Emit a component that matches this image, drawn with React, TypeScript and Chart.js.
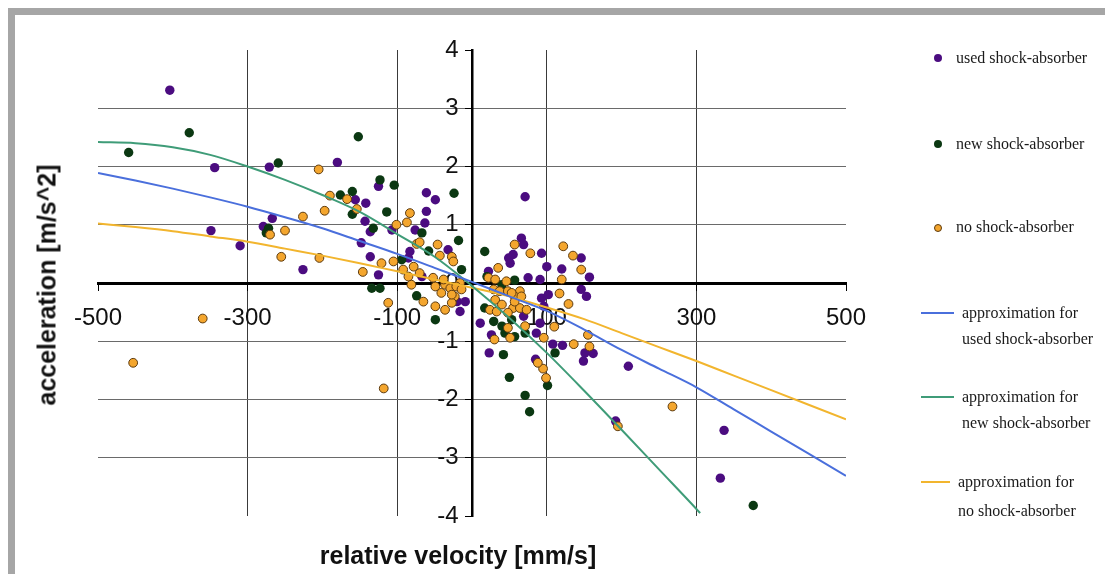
import { useEffect, useRef } from "react";
import { Chart, registerables } from "chart.js";

Chart.register(...registerables);

// ---------- data ----------
const xTickValues = [-500, -300, -100, 100, 300, 500];
const yTickValues = [-4, -3, -2, -1, 0, 1, 2, 3, 4];

const usedPoints: [number, number][] = [
  [-404, 3.31], [-344, 1.98], [-349, 0.9], [-310, 0.64], [-271, 1.99], [-267, 1.11], [-279, 0.97], [-226, 0.23], [-180, 2.07],
  [-156, 1.43], [-142, 1.37], [-143, 1.06], [-136, 0.88], [-148, 0.69], [-136, 0.45], [-125, 0.14], [-125, 1.66],
  [-61, 1.55], [-49, 1.43], [-61, 1.23], [-63, 1.03], [-76, 0.91], [-107, 0.91], [-83, 0.54], [-32, 0.57], [-67, 0.11],
  [-20, -0.32], [-16, -0.49], [-85, 0.43], [-9, -0.32],
  [71, 1.48], [66, 0.77], [69, 0.66], [55, 0.49], [51, 0.34], [93, 0.51], [75, 0.09], [91, 0.06], [100, 0.28], [22, 0.2],
  [93, -0.26], [96, -0.4], [11, -0.69], [26, -0.89], [91, -0.69], [86, -0.86], [69, -0.57], [23, -1.2], [85, -1.31],
  [120, 0.24], [146, 0.43], [157, 0.1], [146, -0.11], [153, -0.23], [102, -0.2], [121, -1.07], [151, -1.2], [162, -1.21],
  [149, -1.34], [108, -1.05], [49, 0.43],
  [209, -1.43], [192, -2.37], [337, -2.53], [332, -3.35],
];

const newPoints: [number, number][] = [
  [-459, 2.24], [-378, 2.58], [-152, 2.51], [-259, 2.06], [-176, 1.51], [-160, 1.57], [-160, 1.18], [-272, 0.94], [-275, 0.86],
  [-123, 1.77], [-104, 1.68], [-24, 1.54], [-114, 1.22], [-18, 0.73], [-132, 0.94], [-67, 0.86], [-58, 0.55], [-14, 0.23],
  [-134, -0.09], [-123, -0.09], [-74, -0.22], [-49, -0.63], [-94, 0.4],
  [17, 0.54], [20, 0.11], [40, -0.03], [57, 0.05], [17, -0.43], [29, -0.66], [40, -0.74], [53, -0.63], [57, -0.92], [44, -0.86],
  [42, -1.23], [71, -1.93], [77, -2.21], [50, -1.62], [101, -1.76], [111, -1.2], [71, -0.86], [376, -3.82],
];

const noPoints: [number, number][] = [
  [-453, -1.37], [-360, -0.61], [-118, -1.81],
  [-255, 0.45], [-204, 0.43], [-226, 1.14], [-197, 1.24], [-205, 1.95], [-250, 0.9], [-270, 0.83], [-146, 0.19],
  [-190, 1.5], [-167, 1.44], [-154, 1.27],
  [-83, 1.2], [-101, 1.0], [-87, 1.04], [-74, 0.67], [-70, 0.7], [-46, 0.66], [-43, 0.47], [-27, 0.45], [-25, 0.37], [-121, 0.34],
  [-105, 0.37], [-92, 0.23], [-78, 0.28], [-70, 0.17], [-85, 0.11], [-81, -0.03], [-52, 0.09], [-49, -0.06], [-36, -0.03], [-41, -0.17],
  [-29, -0.09], [-23, -0.23], [-65, -0.32], [-49, -0.4], [-36, -0.46], [-27, -0.34], [-112, -0.34], [-16, 0.0], [-38, 0.06], [-21, -0.06], [-27, -0.2],
  [99, -1.63], [95, -1.47], [30, -0.97], [88, -1.37],
  [57, 0.66], [78, 0.51], [35, 0.26], [22, 0.09], [31, 0.06], [46, 0.03], [29, -0.11], [37, -0.14], [48, -0.14], [64, -0.14], [57, -0.23], [66, -0.23],
  [31, -0.29], [40, -0.37], [55, -0.43], [64, -0.43], [24, -0.46], [73, -0.46], [48, -0.51], [71, -0.74], [48, -0.77], [51, -0.94], [96, -0.94], [-14, -0.11],
  [53, -0.17], [57, -0.32], [33, -0.49],
  [122, 0.63], [135, 0.47], [146, 0.23], [120, 0.06], [117, -0.18], [129, -0.36], [110, -0.75], [136, -1.05], [157, -1.09], [155, -0.89],
  [268, -2.12], [195, -2.46],
];

const fitX = [-500, -450, -400, -350, -300, -250, -200, -150, -100, -50, 0, 50, 100, 150, 200, 250, 300, 350, 400, 450, 500];
const usedFit = [1.89, 1.76, 1.62, 1.47, 1.31, 1.13, 0.94, 0.72, 0.5, 0.26, 0.02, -0.23, -0.48, -0.8, -1.15, -1.47, -1.79, -2.17, -2.55, -2.93, -3.31];
const noFit = [1.02, 0.96, 0.89, 0.8, 0.71, 0.59, 0.47, 0.34, 0.2, 0.06, -0.08, -0.23, -0.42, -0.62, -0.86, -1.1, -1.34, -1.59, -1.84, -2.09, -2.34];
const newFitX = [-500, -450, -400, -350, -300, -250, -200, -150, -100, -50, 0, 50, 100, 150, 200, 250, 300, 305];
const newFit = [2.42, 2.4, 2.33, 2.2, 2.0, 1.77, 1.51, 1.22, 0.84, 0.45, -0.05, -0.6, -1.2, -1.85, -2.52, -3.2, -3.88, -3.95];

// ---------- styles ----------
const PURPLE = "#4b0c80";
const DKGREEN = "#0b3812";
const ORANGE = "#f4a62e";
const ORANGE_EDGE = "#5c3a0e";
const BLUE_LINE = "#4a6fdc";
const GREEN_LINE = "#3f9c78";
const ORANGE_LINE = "#f2b52e";

const legendFont = "'Liberation Serif', 'DejaVu Serif', serif";
const axisFont = "'Liberation Sans', Arial, sans-serif";

export default function App() {
  const ref = useRef<HTMLCanvasElement>(null);

  useEffect(() => {
    const canvas = ref.current;
    if (!canvas) return;
    const pts = (arr: [number, number][]) => arr.map(([x, y]) => ({ x, y }));
    const curve = (xs: number[], ys: number[]) => xs.map((x, i) => ({ x, y: ys[i] }));
    const lineDs = (label: string, data: any[], color: string) => ({
      label,
      data,
      showLine: true,
      borderColor: color,
      backgroundColor: color,
      borderWidth: 2,
      pointRadius: 0,
      cubicInterpolationMode: "monotone" as const,
      order: 0,
    });

    const chart = new Chart(canvas, {
      type: "scatter",
      data: {
        datasets: [
          lineDs("approximation for used shock-absorber", curve(fitX, usedFit), BLUE_LINE),
          lineDs("approximation for new shock-absorber", curve(newFitX, newFit), GREEN_LINE),
          lineDs("approximation for no shock-absorber", curve(fitX, noFit), ORANGE_LINE),
          {
            label: "no shock-absorber",
            data: pts(noPoints),
            backgroundColor: ORANGE,
            borderColor: ORANGE_EDGE,
            borderWidth: 1,
            pointRadius: 4.4,
            order: 1,
          },
          {
            label: "new shock-absorber",
            data: pts(newPoints),
            backgroundColor: DKGREEN,
            borderColor: DKGREEN,
            borderWidth: 0,
            pointRadius: 4.7,
            order: 2,
          },
          {
            label: "used shock-absorber",
            data: pts(usedPoints),
            backgroundColor: PURPLE,
            borderColor: PURPLE,
            borderWidth: 0,
            pointRadius: 4.7,
            order: 3,
          },
        ],
      },
      options: {
        responsive: false,
        animation: false,
        events: [],
        layout: { padding: { left: 98, right: 259, top: 50, bottom: 58 } },
        plugins: { legend: { display: false }, tooltip: { enabled: false } },
        scales: {
          x: {
            type: "linear",
            min: -500,
            max: 500,
            position: { y: 0 } as any,
            afterBuildTicks: (s: any) => {
              s.ticks = xTickValues.map((v) => ({ value: v }));
            },
            grid: {
              color: (c: any) => (Math.abs(c.tick?.value) === 500 ? "rgba(0,0,0,0)" : "#3a3a3a"),
              lineWidth: 1,
              tickColor: "#000",
              tickLength: 6,
              drawTicks: true,
            },
            border: { display: true, color: "#000", width: 3 },
            ticks: {
              font: { family: axisFont, size: 24 },
              color: "#111",
              padding: 15,
              maxRotation: 0,
              autoSkip: false,
            },
          },
          y: {
            type: "linear",
            min: -4,
            max: 4,
            position: { x: 0 } as any,
            afterBuildTicks: (s: any) => {
              s.ticks = yTickValues.map((v) => ({ value: v }));
            },
            grid: {
              color: (c: any) => (Math.abs(c.tick?.value) === 4 ? "rgba(0,0,0,0)" : "#6a6a6a"),
              lineWidth: 1,
              tickColor: "#000",
              tickLength: 6,
              drawTicks: true,
            },
            border: { display: true, color: "#000", width: 2.5 },
            ticks: { display: false },
          },
          yl: {
            type: "linear",
            min: -4,
            max: 4,
            position: { x: -18 } as any,
            afterBuildTicks: (s: any) => {
              s.ticks = yTickValues.map((v) => ({ value: v }));
            },
            grid: { display: false },
            border: { display: false },
            ticks: {
              font: { family: axisFont, size: 24 },
              color: "#111",
              padding: 0,
              autoSkip: false,
            },
          },
        },
      },
    });
    return () => chart.destroy();
  }, []);

  const text = (s: string, left: number, cy: number, key: string) => (
    <div
      key={key}
      style={{
        position: "absolute",
        left,
        top: cy - 11,
        height: 22,
        lineHeight: "22px",
        fontFamily: legendFont,
        fontSize: 16,
        color: "#1a1a1a",
        whiteSpace: "nowrap",
      }}
    >
      {s}
    </div>
  );
  const dot = (cx: number, cy: number, color: string, edge?: string) => (
    <div
      style={{
        position: "absolute",
        left: cx - 4,
        top: cy - 4,
        width: 8,
        height: 8,
        borderRadius: "50%",
        background: color,
        boxSizing: "border-box",
        border: edge ? `1px solid ${edge}` : "none",
      }}
    />
  );
  const seg = (x1: number, x2: number, cy: number, color: string) => (
    <div
      style={{
        position: "absolute",
        left: x1,
        top: cy - 1,
        width: x2 - x1,
        height: 2,
        background: color,
      }}
    />
  );

  return (
    <div
      style={{
        position: "fixed",
        left: 0,
        top: 0,
        width: 1105,
        height: 574,
        overflow: "hidden",
        background: "#fff",
      }}
    >
      <div
        style={{
          position: "absolute",
          left: 8,
          top: 8,
          width: 1300,
          height: 800,
          borderTop: "7px solid #a6a6a6",
          borderLeft: "7px solid #a6a6a6",
        }}
      />
      <canvas
        ref={ref}
        width={1105}
        height={574}
        style={{ position: "absolute", left: 0, top: 0, width: 1105, height: 574 }}
      />
      {/* axis titles */}
      <div
        style={{
          position: "absolute",
          left: 47,
          top: 285,
          transform: "translate(-50%, -50%) rotate(-90deg)",
          fontFamily: axisFont,
          fontWeight: "bold",
          fontSize: 25,
          color: "#111",
          whiteSpace: "nowrap",
        }}
      >
        acceleration [m/s^2]
      </div>
      <div
        style={{
          position: "absolute",
          left: 458,
          top: 555,
          transform: "translate(-50%, -50%)",
          fontFamily: axisFont,
          fontWeight: "bold",
          fontSize: 25,
          color: "#111",
          whiteSpace: "nowrap",
        }}
      >
        relative velocity [mm/s]
      </div>
      {/* legend */}
      {dot(938, 58, PURPLE)}
      {text("used shock-absorber", 956, 58, "l1")}
      {dot(938, 144, DKGREEN)}
      {text("new shock-absorber", 956, 144, "l2")}
      {dot(938, 228, ORANGE, ORANGE_EDGE)}
      {text("no shock-absorber", 956, 227, "l3")}
      {seg(921, 954, 313, BLUE_LINE)}
      {text("approximation for", 962, 313, "l4a")}
      {text("used shock-absorber", 962, 339, "l4b")}
      {seg(921, 954, 397, GREEN_LINE)}
      {text("approximation for", 962, 397, "l5a")}
      {text("new shock-absorber", 962, 423, "l5b")}
      {seg(921, 950, 482, ORANGE_LINE)}
      {text("approximation for", 958, 482, "l6a")}
      {text("no shock-absorber", 958, 511, "l6b")}
    </div>
  );
}
